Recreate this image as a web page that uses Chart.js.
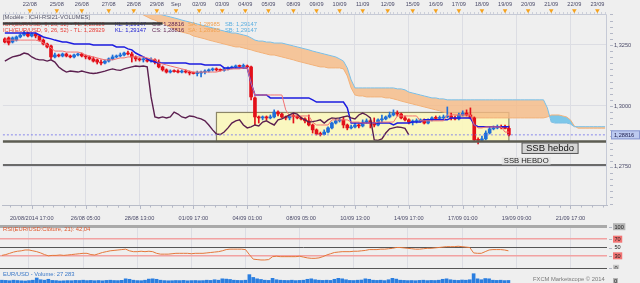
<!DOCTYPE html>
<html>
<head>
<meta charset="utf-8">
<script src="https://cdn.jsdelivr.net/npm/chart.js@4.4.1/dist/chart.umd.min.js"></script>
<style>
  html, body { margin: 0; padding: 0; background: #efefef; }
  #wrap { position: relative; width: 640px; height: 283px; overflow: hidden; background: #efefef; }
  canvas { position: absolute; left: 0; }
</style>
</head>
<body>
<div id="wrap">
  <canvas id="main" width="640" height="222" style="top:0"></canvas>
  <canvas id="rsi" width="640" height="48" style="top:221px"></canvas>
  <canvas id="vol" width="640" height="14" style="top:269px"></canvas>
</div>
<script>
// EUR/USD 4h candles, 20/08 -> 19/09/2014
var opens = [1.3275,1.3279,1.3262,1.3270,1.3283,1.3291,1.3299,1.3287,1.3295,1.3287,
  1.3270,1.3254,1.3246,1.3201,1.3209,1.3205,1.3213,1.3205,1.3201,1.3209,
  1.3213,1.3205,1.3201,1.3193,1.3189,1.3180,1.3176,1.3184,1.3193,1.3201,
  1.3205,1.3209,1.3217,1.3213,1.3201,1.3193,1.3189,1.3189,1.3184,1.3189,
  1.3180,1.3160,1.3148,1.3139,1.3143,1.3143,1.3139,1.3143,1.3139,1.3135,
  1.3133,1.3135,1.3139,1.3143,1.3148,1.3152,1.3148,1.3146,1.3152,1.3156,
  1.3160,1.3164,1.3162,1.3164,1.3160,1.3033,1.2955,1.2951,1.2955,1.2951,
  1.2955,1.2975,1.2967,1.2955,1.2951,1.2959,1.2957,1.2951,1.2947,1.2939,
  1.2922,1.2902,1.2885,1.2883,1.2893,1.2910,1.2930,1.2939,1.2943,1.2922,
  1.2910,1.2914,1.2922,1.2918,1.2934,1.2939,1.2930,1.2922,1.2943,1.2947,
  1.2955,1.2963,1.2971,1.2967,1.2951,1.2943,1.2934,1.2936,1.2939,1.2943,
  1.2930,1.2943,1.2951,1.2949,1.2951,1.2955,1.2959,1.2951,1.2947,1.2963,
  1.2971,1.2963,1.2951,1.2861,1.2859,1.2865,1.2889,1.2906,1.2910,1.2914,
  1.2912,1.2908];
var highs = [1.3279,1.3283,1.3283,1.3287,1.3295,1.3307,1.3303,1.3299,1.3299,1.3291,
  1.3275,1.3258,1.3250,1.3217,1.3213,1.3217,1.3217,1.3209,1.3213,1.3217,
  1.3217,1.3209,1.3205,1.3201,1.3193,1.3189,1.3189,1.3197,1.3209,1.3209,
  1.3217,1.3221,1.3225,1.3221,1.3205,1.3197,1.3197,1.3193,1.3197,1.3193,
  1.3189,1.3164,1.3152,1.3148,1.3148,1.3148,1.3148,1.3148,1.3143,1.3139,
  1.3143,1.3143,1.3148,1.3152,1.3156,1.3156,1.3152,1.3156,1.3160,1.3164,
  1.3168,1.3168,1.3172,1.3168,1.3164,1.3037,1.2959,1.2959,1.2959,1.2963,
  1.2984,1.2980,1.2971,1.2959,1.2963,1.2967,1.2963,1.2955,1.2951,1.2963,
  1.2926,1.2906,1.2893,1.2902,1.2914,1.2934,1.2947,1.2951,1.2955,1.2926,
  1.2922,1.2930,1.2926,1.2943,1.2947,1.2943,1.2951,1.2947,1.2963,1.2959,
  1.2975,1.2984,1.2980,1.2971,1.2959,1.2947,1.2943,1.2947,1.2947,1.2947,
  1.2947,1.2955,1.2959,1.2959,1.2963,1.2996,1.2971,1.2959,1.2971,1.2980,
  1.2984,1.2992,1.2955,1.2869,1.2877,1.2898,1.2914,1.2918,1.2922,1.2922,
  1.2922,1.2918];
var lows = [1.3258,1.3250,1.3258,1.3266,1.3279,1.3287,1.3283,1.3283,1.3279,1.3266,
  1.3250,1.3238,1.3193,1.3197,1.3201,1.3201,1.3201,1.3197,1.3197,1.3205,
  1.3201,1.3193,1.3189,1.3180,1.3172,1.3168,1.3172,1.3180,1.3189,1.3197,
  1.3201,1.3205,1.3209,1.3180,1.3184,1.3184,1.3180,1.3180,1.3180,1.3172,
  1.3156,1.3143,1.3135,1.3135,1.3139,1.3135,1.3135,1.3135,1.3127,1.3131,
  1.3123,1.3119,1.3131,1.3139,1.3143,1.3143,1.3143,1.3143,1.3148,1.3152,
  1.3156,1.3160,1.3156,1.3156,1.3025,1.2922,1.2930,1.2943,1.2943,1.2947,
  1.2951,1.2959,1.2951,1.2943,1.2943,1.2930,1.2947,1.2943,1.2930,1.2918,
  1.2889,1.2881,1.2877,1.2881,1.2889,1.2906,1.2926,1.2934,1.2910,1.2902,
  1.2906,1.2910,1.2910,1.2914,1.2930,1.2910,1.2914,1.2918,1.2934,1.2943,
  1.2951,1.2959,1.2959,1.2947,1.2939,1.2926,1.2922,1.2930,1.2934,1.2926,
  1.2926,1.2939,1.2943,1.2947,1.2947,1.2951,1.2943,1.2943,1.2943,1.2959,
  1.2959,1.2947,1.2857,1.2844,1.2857,1.2861,1.2885,1.2902,1.2906,1.2906,
  1.2906,1.2877];
var closes = [1.3262,1.3258,1.3279,1.3283,1.3291,1.3299,1.3287,1.3295,1.3287,1.3270,
  1.3254,1.3242,1.3201,1.3209,1.3205,1.3213,1.3205,1.3201,1.3209,1.3213,
  1.3205,1.3201,1.3193,1.3184,1.3180,1.3176,1.3184,1.3193,1.3201,1.3205,
  1.3209,1.3217,1.3213,1.3201,1.3193,1.3189,1.3189,1.3184,1.3189,1.3180,
  1.3160,1.3148,1.3139,1.3143,1.3141,1.3139,1.3143,1.3139,1.3135,1.3133,
  1.3135,1.3139,1.3143,1.3148,1.3152,1.3148,1.3146,1.3152,1.3156,1.3160,
  1.3164,1.3162,1.3164,1.3160,1.3037,1.2955,1.2951,1.2955,1.2951,1.2955,
  1.2975,1.2967,1.2955,1.2951,1.2959,1.2957,1.2951,1.2947,1.2939,1.2922,
  1.2902,1.2885,1.2883,1.2893,1.2910,1.2930,1.2939,1.2943,1.2922,1.2910,
  1.2914,1.2922,1.2918,1.2934,1.2939,1.2930,1.2922,1.2943,1.2947,1.2955,
  1.2963,1.2971,1.2967,1.2951,1.2943,1.2934,1.2936,1.2939,1.2943,1.2930,
  1.2943,1.2951,1.2949,1.2951,1.2955,1.2959,1.2951,1.2947,1.2963,1.2971,
  1.2963,1.2951,1.2861,1.2859,1.2865,1.2889,1.2906,1.2910,1.2914,1.2912,
  1.2908,1.28816];

// Ichimoku lines (9, 26, 52)
var tenkan = [1.3270,1.3270,1.3270,1.3270,1.3270,1.3270,1.3270,1.3270,1.3270,1.3266,
  1.3258,1.3250,1.3238,1.3225,1.3225,1.3225,1.3221,1.3221,1.3221,1.3221,
  1.3217,1.3209,1.3205,1.3201,1.3197,1.3193,1.3189,1.3189,1.3189,1.3193,
  1.3197,1.3197,1.3201,1.3201,1.3201,1.3201,1.3201,1.3197,1.3193,1.3189,
  1.3176,1.3172,1.3168,1.3164,1.3160,1.3156,1.3152,1.3148,1.3143,1.3139,
  1.3139,1.3139,1.3139,1.3139,1.3139,1.3139,1.3143,1.3148,1.3148,1.3152,
  1.3152,1.3152,1.3156,1.3156,1.3094,1.3045,1.3045,1.3045,1.3045,1.3045,
  1.3045,1.3045,1.3045,1.2984,1.2959,1.2959,1.2959,1.2959,1.2959,1.2959,
  1.2934,1.2922,1.2922,1.2922,1.2922,1.2943,1.2943,1.2943,1.2943,1.2943,
  1.2934,1.2934,1.2934,1.2930,1.2930,1.2930,1.2930,1.2934,1.2934,1.2934,
  1.2934,1.2934,1.2959,1.2959,1.2959,1.2959,1.2959,1.2959,1.2939,1.2939,
  1.2939,1.2939,1.2939,1.2939,1.2939,1.2963,1.2963,1.2963,1.2963,1.2963,
  1.2963,1.2963,1.2922,1.2910,1.2910,1.2914,1.2914,1.2914,1.2914,1.2914,
  1.2893,1.2893];
var kijun = [1.3299,1.3299,1.3299,1.3299,1.3299,1.3299,1.3299,1.3299,1.3299,1.3291,
  1.3283,1.3279,1.3275,1.3270,1.3266,1.3262,1.3262,1.3258,1.3254,1.3254,
  1.3254,1.3254,1.3254,1.3250,1.3250,1.3250,1.3250,1.3250,1.3250,1.3242,
  1.3242,1.3242,1.3234,1.3230,1.3217,1.3209,1.3201,1.3193,1.3184,1.3180,
  1.3176,1.3176,1.3176,1.3176,1.3176,1.3176,1.3176,1.3176,1.3172,1.3172,
  1.3172,1.3172,1.3168,1.3168,1.3168,1.3168,1.3168,1.3156,1.3156,1.3156,
  1.3156,1.3156,1.3156,1.3156,1.3094,1.3045,1.3045,1.3045,1.3045,1.3033,
  1.3033,1.3033,1.3033,1.3033,1.3033,1.3033,1.3033,1.3033,1.3033,1.3033,
  1.3025,1.3016,1.3016,1.3016,1.3016,1.3016,1.3016,1.3016,1.3016,1.2992,
  1.2930,1.2930,1.2930,1.2930,1.2930,1.2930,1.2930,1.2930,1.2930,1.2930,
  1.2930,1.2922,1.2930,1.2930,1.2930,1.2930,1.2934,1.2934,1.2934,1.2943,
  1.2943,1.2943,1.2943,1.2943,1.2943,1.2943,1.2951,1.2951,1.2951,1.2951,
  1.2951,1.2951,1.2922,1.2915,1.2915,1.2915,1.2915,1.2915,1.2915,1.2915,
  1.2915,1.2915];
// senkou spans, already shifted 26 bars forward (157 slots)
var senkouA = [null,null,null,null,null,null,null,null,null,null,
  null,null,null,null,null,null,null,null,null,null,
  null,null,null,null,null,null,null,null,null,null,
  null,null,null,null,1.3385,1.3381,1.3373,1.3365,1.3357,1.3352,
  1.3344,1.3340,1.3332,1.3324,1.3316,1.3307,1.3303,1.3299,1.3295,1.3287,
  1.3283,1.3279,1.3275,1.3270,1.3266,1.3262,1.3258,1.3254,1.3250,1.3246,
  1.3242,1.3242,1.3238,1.3234,1.3230,1.3225,1.3221,1.3217,1.3213,1.3209,
  1.3209,1.3205,1.3201,1.3197,1.3193,1.3189,1.3184,1.3180,1.3176,1.3172,
  1.3168,1.3164,1.3160,1.3160,1.3156,1.3156,1.3156,1.3156,1.3152,1.3123,
  1.3074,1.3045,1.3041,1.3041,1.3037,1.3037,1.3037,1.3037,1.3037,1.3033,
  1.3033,1.3029,1.3025,1.3020,1.3016,1.3012,1.3008,1.3004,1.3000,1.2996,
  1.2992,1.2988,1.2984,1.2980,1.2975,1.2971,1.2967,1.2963,1.2959,1.2955,
  1.2951,1.2951,1.2951,1.2951,1.2951,1.2951,1.2951,1.2951,1.2951,1.2951,
  1.2951,1.2951,1.2951,1.2951,1.2951,1.2951,1.2951,1.2951,1.2951,1.2951,
  1.2951,1.2955,1.2963,1.2963,1.2963,1.2959,1.2955,1.2943,1.2918,1.2909,
  1.2909,1.2909,1.2909,1.2909,1.2909,1.2909,1.2909];
var senkouB = [null,null,null,null,null,null,null,null,null,null,
  null,null,null,null,null,null,null,null,null,null,
  null,null,null,null,null,null,null,null,null,null,
  null,null,null,null,1.3414,1.3406,1.3398,1.3389,1.3385,1.3381,
  1.3377,1.3373,1.3369,1.3365,1.3361,1.3357,1.3352,1.3348,1.3344,1.3340,
  1.3336,1.3332,1.3328,1.3324,1.3320,1.3316,1.3311,1.3307,1.3303,1.3299,
  1.3299,1.3295,1.3291,1.3287,1.3279,1.3270,1.3266,1.3266,1.3262,1.3262,
  1.3258,1.3258,1.3258,1.3254,1.3250,1.3246,1.3242,1.3238,1.3234,1.3230,
  1.3225,1.3221,1.3217,1.3213,1.3209,1.3205,1.3201,1.3193,1.3184,1.3156,
  1.3107,1.3074,1.3074,1.3074,1.3074,1.3074,1.3074,1.3074,1.3074,1.3074,
  1.3074,1.3074,1.3070,1.3070,1.3066,1.3057,1.3053,1.3049,1.3045,1.3041,
  1.3037,1.3033,1.3033,1.3029,1.3029,1.3025,1.3025,1.3025,1.3025,1.3025,
  1.3025,1.3025,1.3025,1.3025,1.3025,1.3025,1.3025,1.3025,1.3025,1.3025,
  1.3025,1.3025,1.3025,1.3025,1.3025,1.3025,1.3025,1.3025,1.3025,1.3025,
  1.3025,1.2992,1.2934,1.2930,1.2930,1.2930,1.2930,1.2926,1.2915,1.2915,
  1.2915,1.2915,1.2915,1.2915,1.2915,1.2915,1.2915];

var rsi = [31,33,36,39,41,42,44,44,42,40,
  37,33,30,31,31,32,31,32,33,34,
  35,36,36,33,32,35,38,40,42,43,
  44,45,46,42,40,40,41,40,41,40,
  36,34,34,34,35,36,36,36,36,35,
  36,36,36,37,38,39,40,42,45,46,
  46,46,46,45,33,22,21,20,20,21,
  28,29,28,28,28,28,28,29,27,25,
  24,24,25,28,32,35,38,39,40,40,
  40,41,41,42,43,45,45,45,46,46,
  47,48,50,50,49,48,47,46,46,47,
  48,48,49,50,51,52,52,52,53,52,
  51,50,37,36,36,40,44,45,45,45,
  44,42.04];
var volumes = [30000,28000,25000,30000,27000,24000,22000,26000,30000,54000,
  35000,30000,40000,28000,26000,22000,24000,26000,25000,28000,
  27000,30000,26000,28000,25000,27000,24000,28000,30000,27000,
  26000,29000,45000,40000,30000,26000,25000,30000,42000,45000,
  40000,30000,26000,24000,25000,27000,26000,28000,24000,26000,
  27000,25000,26000,30000,28000,35000,30000,45000,42000,38000,
  30000,28000,27000,30000,90000,60000,45000,38000,30000,28000,
  50000,35000,30000,28000,27000,30000,26000,28000,30000,40000,
  45000,35000,30000,28000,30000,28000,40000,50000,45000,35000,
  28000,27000,30000,32000,45000,40000,30000,28000,30000,26000,
  35000,50000,42000,30000,28000,26000,27000,25000,28000,30000,
  26000,28000,27000,30000,40000,45000,35000,30000,28000,32000,
  30000,35000,100000,45000,35000,48000,45000,30000,28000,30000,
  26000,27283];

var legendValues = { TL: '1,28929', KL: '1,29147', SA: '1,28985', SB: '1,29147' };
var priceTicks = [1.2750, 1.3000, 1.3250];
var bottomTickLabels = ['20/08/2014 17:00','26/08 05:00','28/08 13:00','01/09 17:00','04/09 01:00',
  '08/09 05:00','10/09 13:00','14/09 17:00','17/09 01:00','19/09 09:00','21/09 17:00'];
var bottomTickBars = [7,21,35,49,63,77,91,105,119,133,147];
var dayLabels = ['22/08','25/08','26/08','27/08','28/08','29/08','Sep','02/09','03/09','04/09','05/09',
  '08/09','09/09','10/09','11/09','12/09','15/09','16/09','17/09','18/09','19/09','20/09','21/09','22/09','23/09'];
var dayBars = [6.5,13.5,20,27,33.5,39.5,44.5,50.5,56.5,62.5,68.5,75,81,87,93,99.5,106,112,118,124,130,136,142,148,154];
var rsiLevels = [0, 30, 50, 70, 100];

var ssbLevels = [1.28545, 1.2758];     // "SSB hebdo" / "SSB HEBDO"
var ssbLabelBars = [141.7, 135.5];
var rangeBox = { from: 55, to: 131, top: 1.29734, bottom: 1.28545 };
var oldLevel = { price: 1.3338, from: 0, to: 41 };

var SLOTS = 157;
var labels = [];
for (var i = 0; i < SLOTS; i++) labels.push(i);

var FONT = '"Liberation Sans", Arial, sans-serif';
var AXIS_TXT = '#4a4a68';
var UP = '#1e6fd9', DOWN = '#e3101a';
var candleColors = closes.map(function (c, i) { return c >= opens[i] ? UP : DOWN; });

function fmt(v, d) { return v.toFixed(d).replace('.', ','); }

Chart.defaults.font.family = FONT;

var mainOverlay = {
  id: 'mainOverlay',
  beforeDatasetsDraw: function (chart) {
    var ctx = chart.ctx, x = chart.scales.x, y = chart.scales.y;
    var x0 = x.getPixelForValue(rangeBox.from), x1 = x.getPixelForValue(rangeBox.to);
    var y0 = y.getPixelForValue(rangeBox.top), y1 = y.getPixelForValue(rangeBox.bottom);
    ctx.save();
    ctx.fillStyle = 'rgba(251,247,186,0.9)';
    ctx.fillRect(x0, y0, x1 - x0, y1 - y0);
    ctx.strokeStyle = '#8c8668';
    ctx.lineWidth = 1.2;
    ctx.strokeRect(x0, y0, x1 - x0, y1 - y0);
    ctx.restore();
  },
  afterDatasetsDraw: function (chart) {
    var ctx = chart.ctx, x = chart.scales.x, y = chart.scales.y, a = chart.chartArea;
    ctx.save();
    // weekly SSB levels
    ctx.strokeStyle = '#5c5c52'; ctx.lineWidth = 2.5;
    var ys = y.getPixelForValue(ssbLevels[0]);
    ctx.beginPath(); ctx.moveTo(a.left, ys); ctx.lineTo(a.right, ys); ctx.stroke();
    ctx.strokeStyle = '#6a6a6a'; ctx.lineWidth = 2;
    var ys2 = y.getPixelForValue(ssbLevels[1]);
    ctx.beginPath(); ctx.moveTo(a.left, ys2); ctx.lineTo(a.right, ys2); ctx.stroke();
    // last price
    var yl = y.getPixelForValue(closes[closes.length - 1]);
    ctx.strokeStyle = 'rgba(120,120,235,0.85)'; ctx.lineWidth = 1; ctx.setLineDash([2, 2]);
    ctx.beginPath(); ctx.moveTo(a.left, yl); ctx.lineTo(a.right, yl); ctx.stroke();
    ctx.setLineDash([]);
    // labels of the levels
    var lx = x.getPixelForValue(ssbLabelBars[0]);
    ctx.font = '9.5px ' + FONT;
    var w = ctx.measureText('SSB hebdo').width + 8;
    ctx.fillStyle = '#d6d6d6'; ctx.fillRect(lx - w / 2, ys + 1.5, w, 10.5);
    ctx.strokeStyle = '#555'; ctx.lineWidth = 1; ctx.strokeRect(lx - w / 2, ys + 1.5, w, 10.5);
    ctx.fillStyle = '#111'; ctx.textAlign = 'center'; ctx.textBaseline = 'middle';
    ctx.fillText('SSB hebdo', lx, ys + 7);
    var lx2 = x.getPixelForValue(ssbLabelBars[1]);
    ctx.font = '7.7px ' + FONT;
    var w2 = ctx.measureText('SSB HEBDO').width + 4;
    ctx.fillStyle = '#e6e6e6'; ctx.fillRect(lx2 - w2 / 2, ys2 - 8, w2, 7.5);
    ctx.fillStyle = '#222'; ctx.fillText('SSB HEBDO', lx2, ys2 - 4);
    ctx.restore();
  },
  afterDraw: function (chart) {
    var ctx = chart.ctx, x = chart.scales.x, y = chart.scales.y, a = chart.chartArea;
    ctx.save();
    // frame
    ctx.strokeStyle = '#c6cad6'; ctx.lineWidth = 1;
    ctx.beginPath(); ctx.moveTo(a.left, a.top + 0.5); ctx.lineTo(a.right - 0.5, a.top + 0.5);
    ctx.lineTo(a.right - 0.5, a.bottom); ctx.stroke();
    // top date axis
    ctx.strokeStyle = '#cdd0da';
    for (var i = 0; i < SLOTS; i++) {
      var px = Math.round(x.getPixelForValue(i)) + 0.5;
      ctx.beginPath(); ctx.moveTo(px, 12); ctx.lineTo(px, 14); ctx.stroke();
    }
    ctx.font = '5.6px ' + FONT; ctx.textAlign = 'center'; ctx.textBaseline = 'middle';
    dayBars.forEach(function (b, k) {
      var p = x.getPixelForValue(b);
      ctx.fillStyle = AXIS_TXT; ctx.fillText(dayLabels[k], p, 4.5);
      ctx.fillStyle = '#f5a21d';
      ctx.beginPath(); ctx.moveTo(p - 2.3, 9.3); ctx.lineTo(p + 2.3, 9.3); ctx.lineTo(p, 13.2); ctx.closePath(); ctx.fill();
    });
    // bottom axis minor ticks
    ctx.strokeStyle = '#b4b8c6';
    bottomTickBars.forEach(function (b) {
      for (var m = -2; m < 5; m++) {
        var px = Math.round(x.getPixelForValue(b + m * 2.8)) + 0.5;
        if (px < a.left || px > a.right) continue;
        var len = m === 0 ? 4 : 2.5;
        ctx.beginPath(); ctx.moveTo(px, a.bottom); ctx.lineTo(px, a.bottom + len); ctx.stroke();
      }
    });
    // right axis minor ticks
    for (var v = 1.26; v < 1.338; v += 0.0025) {
      var py = Math.round(y.getPixelForValue(v)) + 0.5;
      ctx.beginPath(); ctx.moveTo(a.right + 3, py); ctx.lineTo(a.right + 6, py); ctx.stroke();
    }
    // last price label
    var last = closes[closes.length - 1];
    var yl = y.getPixelForValue(last);
    ctx.fillStyle = '#bccaf0'; ctx.fillRect(a.right + 4, yl - 4.5, 29, 9);
    ctx.strokeStyle = '#8898d0'; ctx.strokeRect(a.right + 4.5, yl - 4, 28, 8);
    ctx.fillStyle = '#202050'; ctx.textAlign = 'left';
    ctx.fillText(fmt(last, 5), a.right + 7, yl + 0.5);
    // legend
    ctx.textBaseline = 'middle'; ctx.font = '5.8px ' + FONT;
    ctx.fillStyle = '#55556a'; ctx.fillText('[Modèle : ICHI-RSI21-VOLUMES]', 3, 17);
    var segs = [['ICH(EUR/USD, 9, 26, 52) - TL: ' + legendValues.TL, '#e8413a', 3],
      ['KL: ' + legendValues.KL, '#1a1ad0', 115],
      ['CS: ' + fmt(last, 5), '#5b1f4f', 152],
      ['SA: ' + legendValues.SA, '#f0a050', 188],
      ['SB: ' + legendValues.SB, '#5aaee0', 225]];
    [24, 30].forEach(function (ry) {
      segs.forEach(function (s) { ctx.fillStyle = s[1]; ctx.fillText(s[0], s[2], ry); });
    });
    var ly = y.getPixelForValue(oldLevel.price);
    ctx.strokeStyle = '#3c3c3c'; ctx.lineWidth = 2.5;
    ctx.beginPath(); ctx.moveTo(x.getPixelForValue(oldLevel.from) - 2, ly);
    ctx.lineTo(x.getPixelForValue(oldLevel.to), ly); ctx.stroke();
    ctx.restore();
  }
};

new Chart(document.getElementById('main'), {
  type: 'bar',
  data: {
    labels: labels,
    datasets: [
      { type: 'line', label: 'SB', data: senkouB, borderColor: '#7cbfe6', borderWidth: 1,
        pointRadius: 0, fill: false, order: 4 },
      { type: 'line', label: 'SA', data: senkouA, borderColor: '#f2b27a', borderWidth: 1, pointRadius: 0,
        fill: { target: 0, above: 'rgba(118,196,232,0.95)', below: 'rgba(246,186,132,0.8)' }, order: 5 },
      { label: 'wick', data: lows.map(function (l, i) { return [l, highs[i]]; }),
        backgroundColor: candleColors, barThickness: 1, grouped: false, order: 3 },
      { label: 'body', data: opens.map(function (o, i) { return [o, closes[i]]; }),
        backgroundColor: candleColors, barThickness: 3, grouped: false, minBarLength: 1, order: 2 },
      { type: 'line', label: 'Tenkan', data: tenkan, borderColor: '#f27272', borderWidth: 1, pointRadius: 0, order: 1 },
      { type: 'line', label: 'Kijun', data: kijun, borderColor: '#1c1ce0', borderWidth: 1.5, pointRadius: 0, order: 1 },
      { type: 'line', label: 'Chikou', data: closes.slice(26), borderColor: '#5b1f4f', borderWidth: 1.4, pointRadius: 0, order: 0 }
    ]
  },
  options: {
    responsive: false, animation: false, devicePixelRatio: 1, events: [],
    layout: { padding: { top: 14, left: 0, right: 0, bottom: 0 } },
    plugins: { legend: { display: false }, tooltip: { enabled: false } },
    scales: {
      x: {
        offset: true,
        grid: { color: '#dcdde3', offset: false, drawTicks: false },
        border: { color: '#b8bcc8' },
        ticks: { autoSkip: false, maxRotation: 0, padding: 10, color: AXIS_TXT, font: { size: 5.6 },
          callback: function (v, i) { return bottomTickLabels[i]; } },
        afterBuildTicks: function (s) { s.ticks = bottomTickBars.map(function (v) { return { value: v }; }); },
        afterFit: function (s) { s.height = 17; }
      },
      y: {
        position: 'right', min: 1.2594, max: 1.3377,
        grid: { color: '#dcdde3', drawTicks: false },
        border: { display: false },
        ticks: { padding: 7, color: AXIS_TXT, font: { size: 5.6 }, callback: function (v) { return fmt(v, 4); } },
        afterBuildTicks: function (s) { s.ticks = priceTicks.map(function (v) { return { value: v }; }); },
        afterFit: function (s) { s.width = 33; }
      }
    }
  },
  plugins: [mainOverlay]
});

var rsiColors = ['#555555', '#f2a2a2', '#555555', '#f2a2a2', '#a9a9a9'];
var rsiWidths = [1.5, 1.5, 1, 1.5, 3];
var rsiBackdrops = ['#c4c4c4', '#f27474', null, '#f27474', '#b4b4b4'];

new Chart(document.getElementById('rsi'), {
  type: 'line',
  data: { labels: labels, datasets: [{ data: rsi, borderColor: '#e5773a', borderWidth: 1, pointRadius: 0 }] },
  options: {
    responsive: false, animation: false, devicePixelRatio: 1, events: [],
    layout: { padding: { top: 5.7, bottom: 0.7 } },
    plugins: { legend: { display: false }, tooltip: { enabled: false } },
    scales: {
      x: {
        offset: true,
        grid: { color: '#dcdde3', offset: false, drawTicks: false },
        border: { display: false },
        ticks: { display: false },
        afterBuildTicks: function (s) { s.ticks = bottomTickBars.map(function (v) { return { value: v }; }); },
        afterFit: function (s) { s.height = 0; }
      },
      y: {
        position: 'right', min: 0, max: 100,
        grid: { drawTicks: false, color: function (c) { return rsiColors[c.index]; },
          lineWidth: function (c) { return rsiWidths[c.index]; } },
        border: { display: false },
        ticks: { display: false },
        afterBuildTicks: function (s) { s.ticks = rsiLevels.map(function (v) { return { value: v }; }); },
        afterFit: function (s) { s.width = 33; }
      }
    }
  },
  plugins: [{
    id: 'rsiLegend',
    afterDraw: function (chart) {
      var ctx = chart.ctx, y = chart.scales.y, a = chart.chartArea;
      ctx.save();
      ctx.font = '5.8px ' + FONT; ctx.fillStyle = '#e0562b'; ctx.textBaseline = 'middle';
      ctx.fillText('RSI(EUR/USD:Clôture, 21): ' + fmt(rsi[rsi.length - 1], 2), 3, 8.5);
      ctx.font = '5.6px ' + FONT;
      rsiLevels.forEach(function (lv, k) {
        var py = y.getPixelForValue(lv);
        var t = String(lv), tw = ctx.measureText(t).width;
        if (rsiBackdrops[k]) { ctx.fillStyle = rsiBackdrops[k]; ctx.fillRect(a.right + 6, py - 3.5, tw + 3, 7); }
        ctx.fillStyle = '#222'; ctx.fillText(t, a.right + 7.5, py + 0.3);
        ctx.strokeStyle = '#b4b8c6'; ctx.lineWidth = 1;
        ctx.beginPath(); ctx.moveTo(a.right + 2, Math.round(py) + 0.5); ctx.lineTo(a.right + 5, Math.round(py) + 0.5); ctx.stroke();
      });
      ctx.restore();
    }
  }]
});

new Chart(document.getElementById('vol'), {
  type: 'bar',
  data: { labels: labels, datasets: [{ data: volumes, backgroundColor: '#2a7ee0', barThickness: 3 }] },
  options: {
    responsive: false, animation: false, devicePixelRatio: 1, events: [],
    layout: { padding: { top: 1, right: 33 } },
    plugins: { legend: { display: false }, tooltip: { enabled: false } },
    scales: { x: { display: false, offset: true }, y: { display: false, min: 0, max: 140000 } }
  },
  plugins: [{
    id: 'volLegend',
    afterDraw: function (chart) {
      var ctx = chart.ctx, a = chart.chartArea;
      var lastVol = String(volumes[volumes.length - 1]).replace(/\B(?=(\d{3})+(?!\d))/g, ' ');
      ctx.save();
      ctx.font = '5.8px ' + FONT; ctx.textBaseline = 'middle';
      ctx.fillStyle = '#3a78c8'; ctx.fillText('EUR/USD - Volume: ' + lastVol, 3, 5);
      ctx.fillStyle = '#7a7a7a'; ctx.fillText('FXCM Marketscope \u00a9 2014', 533, 10);
      ctx.fillStyle = '#b4b4b4'; ctx.fillRect(a.right + 6, 9, 5, 6);
      ctx.fillStyle = '#222'; ctx.fillText('0', a.right + 7, 12);
      ctx.restore();
    }
  }]
});
</script>
</body>
</html>
